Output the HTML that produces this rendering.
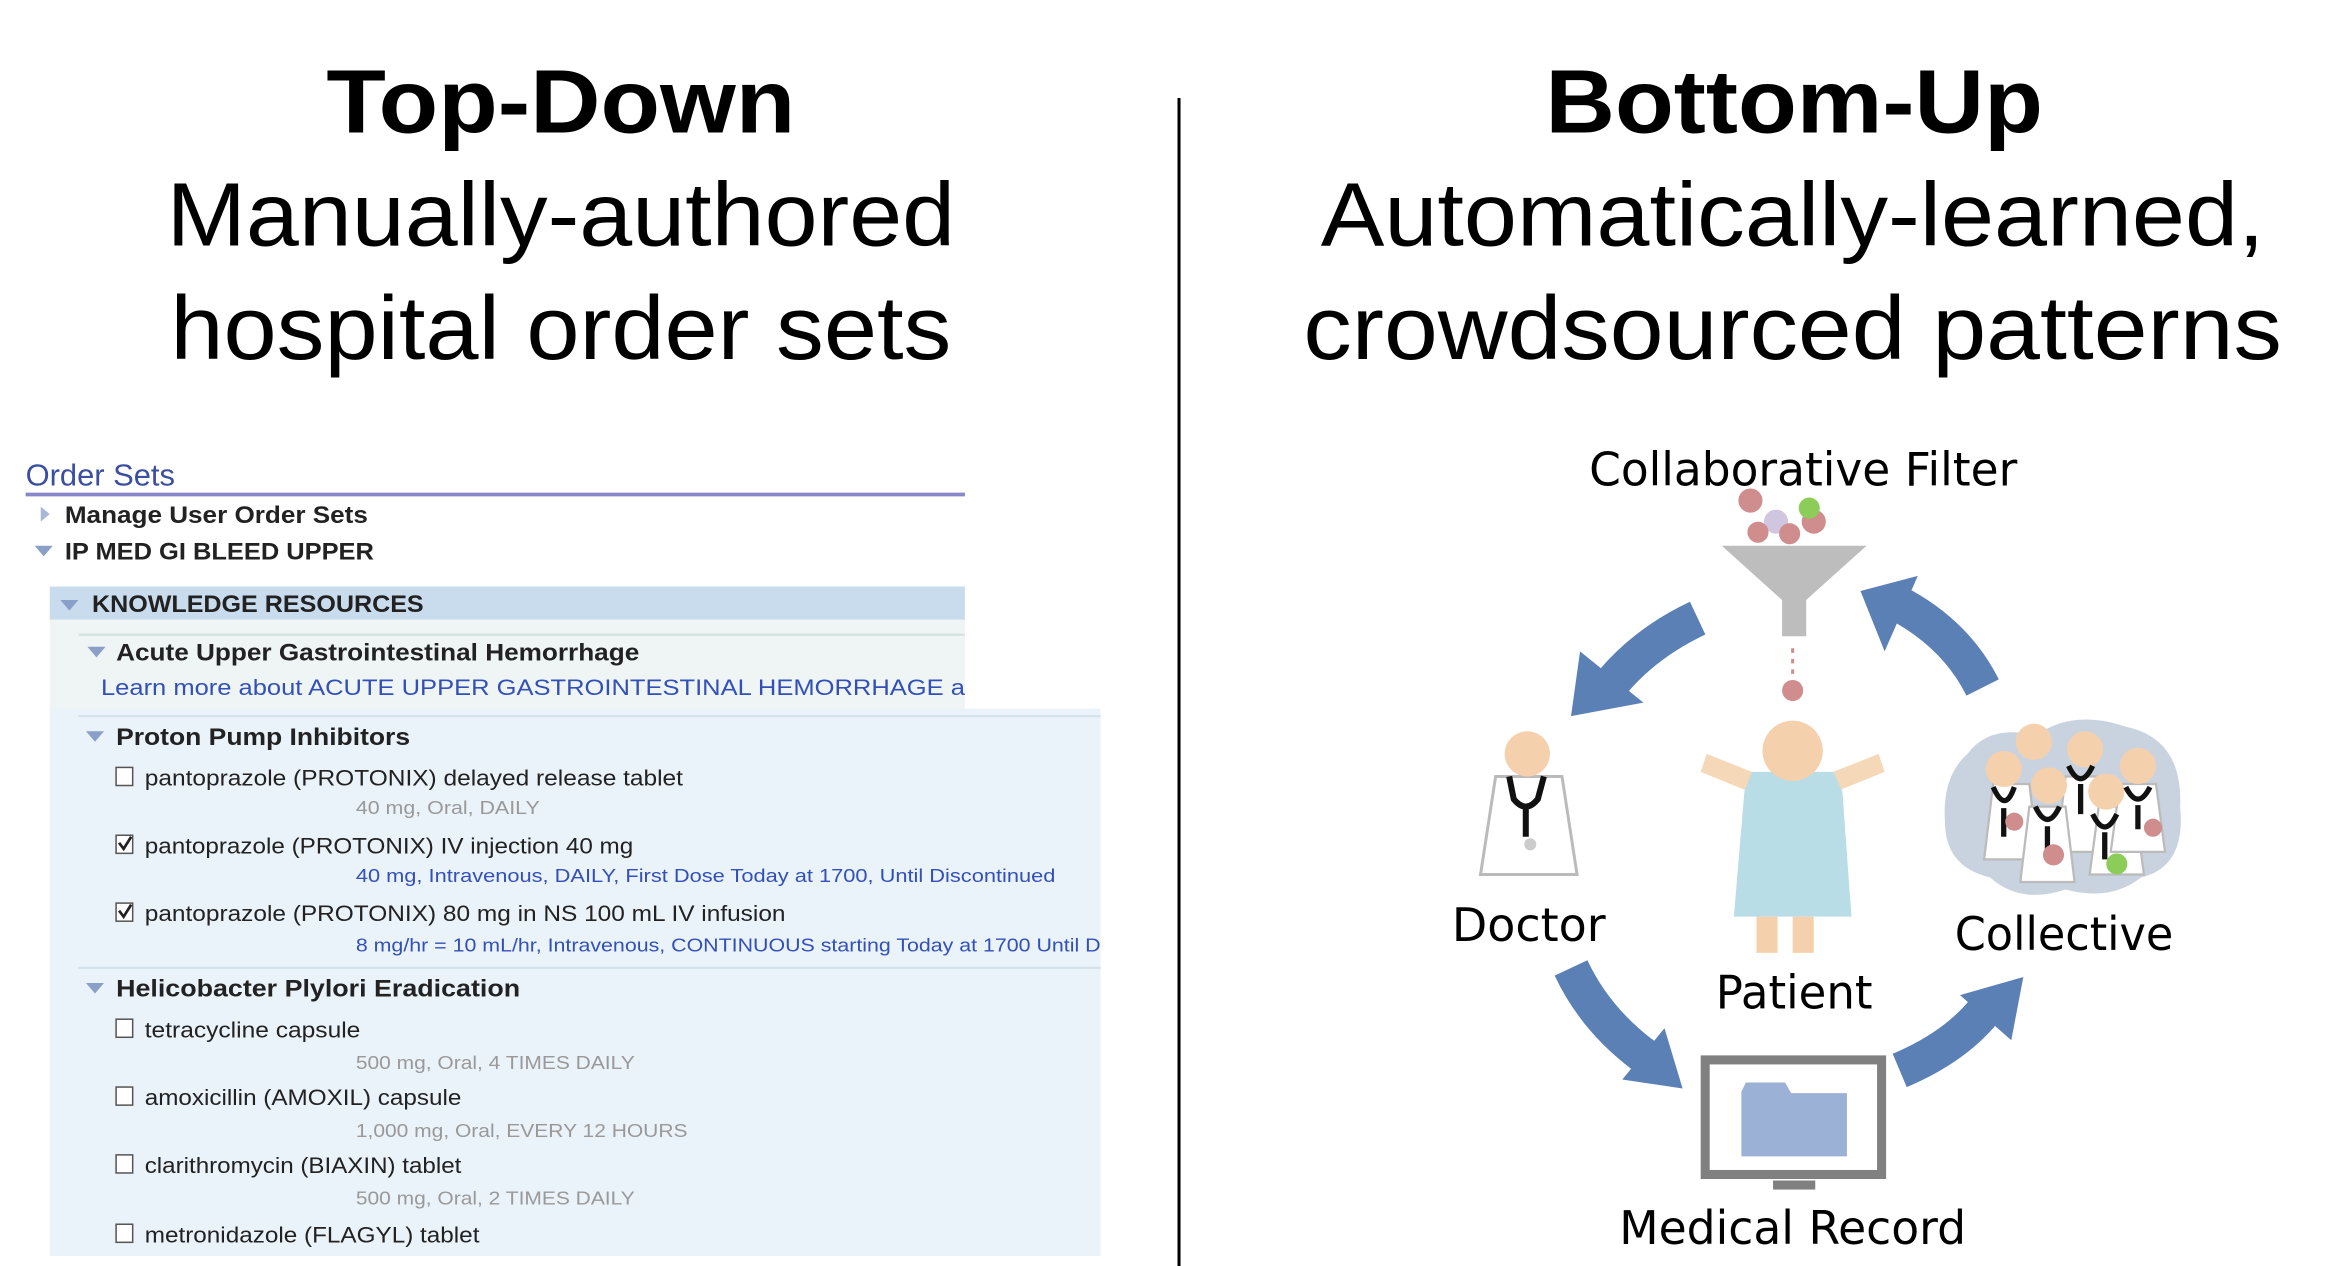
<!DOCTYPE html>
<html><head><meta charset="utf-8"><style>
html,body{margin:0;padding:0;background:#fff;}
svg{display:block;}
</style></head><body>
<svg width="2352" height="1266" viewBox="0 0 1560 839.7" preserveAspectRatio="none" xmlns="http://www.w3.org/2000/svg">
<g font-family="Liberation Sans, Arial, sans-serif" text-anchor="middle" fill="#000">
<text x="372" y="88" font-size="60" font-weight="bold" textLength="311" lengthAdjust="spacingAndGlyphs">Top-Down</text>
<text x="372" y="163" font-size="60" textLength="523" lengthAdjust="spacingAndGlyphs">Manually-authored</text>
<text x="372" y="238" font-size="60" textLength="518" lengthAdjust="spacingAndGlyphs">hospital order sets</text>
<text x="1190" y="88" font-size="60" font-weight="bold" textLength="330" lengthAdjust="spacingAndGlyphs">Bottom-Up</text>
<text x="1189" y="163" font-size="60" textLength="626" lengthAdjust="spacingAndGlyphs">Automatically-learned,</text>
<text x="1189" y="238" font-size="60" textLength="649" lengthAdjust="spacingAndGlyphs">crowdsourced patterns</text>
</g>
<line x1="782" y1="65" x2="782" y2="842" stroke="#000" stroke-width="2"/>

<!-- Left panel -->
<g font-family="Liberation Sans, Arial, sans-serif">
<rect x="33" y="411" width="607" height="60" fill="#eef5f4"/>
<rect x="33" y="470" width="697" height="363" fill="#eaf3fa"/>
<rect x="33" y="389" width="607" height="22" fill="#c9dced"/>
<line x1="52" y1="421" x2="640" y2="421" stroke="#d5e2e2" stroke-width="1.5"/>
<line x1="52" y1="475" x2="730" y2="475" stroke="#d5e2ea" stroke-width="1.5"/>
<line x1="52" y1="642" x2="730" y2="642" stroke="#d5e2ea" stroke-width="1.5"/>
<text x="17" y="322" font-size="20" fill="#3a4fa0" textLength="99" lengthAdjust="spacingAndGlyphs">Order Sets</text>
<line x1="17" y1="328" x2="640" y2="328" stroke="#8a87c8" stroke-width="2.5"/>
<polygon points="27,336 27,346 33,341" fill="#aab8d8"/>
<text x="43" y="347" font-size="16" font-weight="bold" fill="#222" textLength="201" lengthAdjust="spacingAndGlyphs">Manage User Order Sets</text>
<polygon points="23,362 35,362 29,369" fill="#8aa0c8"/>
<text x="43" y="371" font-size="16" font-weight="bold" fill="#222" textLength="205" lengthAdjust="spacingAndGlyphs">IP MED GI BLEED UPPER</text>
<polygon points="40,398 52,398 46,405" fill="#8aa0c8"/>
<text x="61" y="406" font-size="16" font-weight="bold" fill="#222" textLength="220" lengthAdjust="spacingAndGlyphs">KNOWLEDGE RESOURCES</text>
<polygon points="58,429 70,429 64,436" fill="#8aa0c8"/>
<text x="77" y="438" font-size="16" font-weight="bold" fill="#222" textLength="347" lengthAdjust="spacingAndGlyphs">Acute Upper Gastrointestinal Hemorrhage</text>
<text x="67" y="461" font-size="15" fill="#3350b8" textLength="573" lengthAdjust="spacingAndGlyphs">Learn more about ACUTE UPPER GASTROINTESTINAL HEMORRHAGE a</text>
<polygon points="57,485 69,485 63,492" fill="#8aa0c8"/>
<text x="77" y="494" font-size="16" font-weight="bold" fill="#222" textLength="195" lengthAdjust="spacingAndGlyphs">Proton Pump Inhibitors</text>
<g font-size="15" fill="#222">
<rect x="77" y="509" width="11" height="12" fill="#fff" stroke="#555"/>
<text x="96" y="521" textLength="357" lengthAdjust="spacingAndGlyphs">pantoprazole (PROTONIX) delayed release tablet</text>
<text x="236" y="540" font-size="12" fill="#999" textLength="122" lengthAdjust="spacingAndGlyphs">40 mg, Oral, DAILY</text>
<rect x="77" y="554" width="11" height="12" fill="#fff" stroke="#555"/>
<path d="M79,559 l3,4 l5,-8" stroke="#222" stroke-width="1.8" fill="none"/>
<text x="96" y="566" textLength="324" lengthAdjust="spacingAndGlyphs">pantoprazole (PROTONIX) IV injection 40 mg</text>
<text x="236" y="585" font-size="12" fill="#3350b8" textLength="464" lengthAdjust="spacingAndGlyphs">40 mg, Intravenous, DAILY, First Dose Today at 1700, Until Discontinued</text>
<rect x="77" y="599" width="11" height="12" fill="#fff" stroke="#555"/>
<path d="M79,604 l3,4 l5,-8" stroke="#222" stroke-width="1.8" fill="none"/>
<text x="96" y="611" textLength="425" lengthAdjust="spacingAndGlyphs">pantoprazole (PROTONIX) 80 mg in NS 100 mL IV infusion</text>
<text x="236" y="631" font-size="12" fill="#3350b8" textLength="494" lengthAdjust="spacingAndGlyphs">8 mg/hr = 10 mL/hr, Intravenous, CONTINUOUS starting Today at 1700 Until D</text>
</g>
<polygon points="57,652 69,652 63,659" fill="#8aa0c8"/>
<text x="77" y="661" font-size="16" font-weight="bold" fill="#222" textLength="268" lengthAdjust="spacingAndGlyphs">Helicobacter Plylori Eradication</text>
<g font-size="15" fill="#222">
<rect x="77" y="676" width="11" height="12" fill="#fff" stroke="#555"/>
<text x="96" y="688" textLength="143" lengthAdjust="spacingAndGlyphs">tetracycline capsule</text>
<text x="236" y="709" font-size="12" fill="#999" textLength="185" lengthAdjust="spacingAndGlyphs">500 mg, Oral, 4 TIMES DAILY</text>
<rect x="77" y="721" width="11" height="12" fill="#fff" stroke="#555"/>
<text x="96" y="733" textLength="210" lengthAdjust="spacingAndGlyphs">amoxicillin (AMOXIL) capsule</text>
<text x="236" y="754" font-size="12" fill="#999" textLength="220" lengthAdjust="spacingAndGlyphs">1,000 mg, Oral, EVERY 12 HOURS</text>
<rect x="77" y="766" width="11" height="12" fill="#fff" stroke="#555"/>
<text x="96" y="778" textLength="210" lengthAdjust="spacingAndGlyphs">clarithromycin (BIAXIN) tablet</text>
<text x="236" y="799" font-size="12" fill="#999" textLength="185" lengthAdjust="spacingAndGlyphs">500 mg, Oral, 2 TIMES DAILY</text>
<rect x="77" y="812" width="11" height="12" fill="#fff" stroke="#555"/>
<text x="96" y="824" textLength="222" lengthAdjust="spacingAndGlyphs">metronidazole (FLAGYL) tablet</text>
</g>
</g>

<!-- Right diagram -->
<g font-family="DejaVu Sans, Liberation Sans, sans-serif" text-anchor="middle" fill="#000" font-size="31">
<text x="1196" y="322" textLength="284" lengthAdjust="spacingAndGlyphs">Collaborative Filter</text>
<text x="1014" y="624" textLength="102" lengthAdjust="spacingAndGlyphs">Doctor</text>
<text x="1190" y="669" textLength="104" lengthAdjust="spacingAndGlyphs">Patient</text>
<text x="1369" y="630" textLength="145" lengthAdjust="spacingAndGlyphs">Collective</text>
<text x="1189" y="825" textLength="230" lengthAdjust="spacingAndGlyphs">Medical Record</text>
</g>
<!-- balls -->
<circle cx="1161" cy="332" r="8" fill="#cf8d8d"/>
<circle cx="1178" cy="346" r="8" fill="#d0c6e0"/>
<circle cx="1203" cy="346" r="8" fill="#cf8d8d"/>
<circle cx="1200" cy="337" r="7" fill="#8ccd5a"/>
<circle cx="1166" cy="353" r="7" fill="#cf8d8d"/>
<circle cx="1187" cy="354" r="7" fill="#cf8d8d"/>
<!-- funnel -->
<polygon points="1142,362 1238,362 1198,398 1198,422 1182,422 1182,398" fill="#bdbdbd"/>
<line x1="1189" y1="430" x2="1189" y2="448" stroke="#cf8d8d" stroke-width="2" stroke-dasharray="3,4"/>
<circle cx="1189" cy="458" r="7" fill="#cf8d8d"/>
<!-- arrows -->
<g stroke="#5a80b6" stroke-width="24" fill="none">
<path d="M1126,410 Q1092,426 1070,452"/>
<path d="M1315,456 Q1298,422 1262,402"/>
<path d="M1042,642 Q1058,676 1090,700"/>
<path d="M1260,710 Q1298,694 1318,668"/>
</g>
<g fill="#5a80b6">
<polygon points="1042,475 1048,432 1090,466"/>
<polygon points="1234,392 1272,382 1250,432"/>
<polygon points="1116,722 1076,716 1104,682"/>
<polygon points="1342,648 1300,660 1334,690"/>
</g>
<!-- doctor -->
<polygon points="992,515 1036,515 1046,580 982,580" fill="#fff" stroke="#bbb" stroke-width="2"/>
<circle cx="1013" cy="500" r="15" fill="#f5d0ad"/>
<path d="M1001,515 L1004,530 Q1012,540 1020,530 L1024,515 M1012,535 L1012,555" stroke="#111" stroke-width="4" fill="none"/>
<circle cx="1015" cy="560" r="4" fill="#ccc"/>
<!-- patient -->
<path d="M1162,512 L1132,500 L1128,512 L1160,525 Z M1216,512 L1246,500 L1250,512 L1218,525 Z" fill="#f5d8b8"/>
<polygon points="1162,512 1216,512 1222,525 1228,608 1150,608 1157,525" fill="#b9dde6"/>
<circle cx="1189" cy="498" r="20" fill="#f5d0ad"/>
<rect x="1165" y="608" width="14" height="24" fill="#f5d0ad"/>
<rect x="1189" y="608" width="14" height="24" fill="#f5d0ad"/>
<!-- collective -->
<path d="M1305,500 Q1320,480 1350,488 Q1375,470 1410,482 Q1448,490 1446,535 Q1450,575 1420,582 Q1400,598 1370,590 Q1340,600 1320,582 Q1290,575 1290,545 Q1288,515 1305,500 Z" fill="#c9d3df"/>
<g stroke="#bbb" stroke-width="1.5" fill="#fff">
<polygon points="1322,520 1346,520 1352,570 1316,570"/>
<polygon points="1370,515 1394,515 1400,565 1364,565"/>
<polygon points="1346,535 1370,535 1376,585 1340,585"/>
<polygon points="1392,535 1416,535 1422,580 1386,580"/>
<polygon points="1406,520 1430,520 1436,565 1400,565"/>
</g>
<g fill="#f5d0ad">
<circle cx="1349" cy="492" r="12"/><circle cx="1383" cy="497" r="12"/>
<circle cx="1329" cy="510" r="12"/><circle cx="1418" cy="508" r="12"/>
<circle cx="1359" cy="521" r="12"/><circle cx="1397" cy="525" r="12"/>
</g>
<g stroke="#111" stroke-width="3.5" fill="none">
<path d="M1322,522 Q1330,540 1336,522 M1329,536 L1329,555"/>
<path d="M1372,508 Q1380,525 1388,508 M1380,520 L1380,540"/>
<path d="M1350,535 Q1358,552 1366,535 M1358,548 L1358,568"/>
<path d="M1388,540 Q1396,557 1404,540 M1396,552 L1396,570"/>
<path d="M1410,522 Q1418,538 1426,522 M1418,534 L1418,550"/>
</g>
<circle cx="1336" cy="545" r="6" fill="#cf8d8d"/>
<circle cx="1362" cy="567" r="7" fill="#cf8d8d"/>
<circle cx="1404" cy="573" r="7" fill="#8ccd5a"/>
<circle cx="1428" cy="549" r="6" fill="#cf8d8d"/>
<!-- monitor -->
<rect x="1131" y="703" width="117" height="76" fill="#fff" stroke="#808080" stroke-width="6"/>
<rect x="1176" y="783" width="28" height="6" fill="#808080"/>
<path d="M1155,724 L1155,767 L1225,767 L1225,725 L1188,725 L1184,718 L1158,718 Z" fill="#9cb1d6"/>
</svg>
</body></html>
